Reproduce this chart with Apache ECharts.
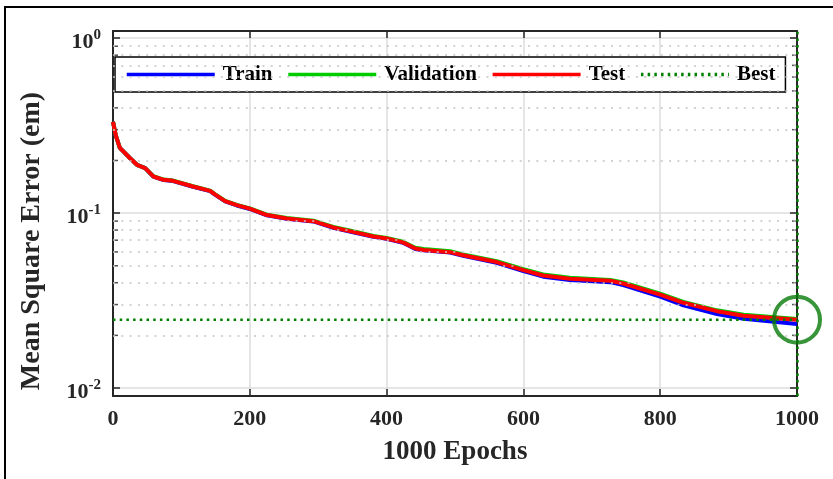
<!DOCTYPE html>
<html>
<head>
<meta charset="utf-8">
<script src="https://cdn.jsdelivr.net/npm/echarts@6/dist/echarts.min.js"></script>
<style>html,body{margin:0;padding:0;background:#fff}#c{width:833px;height:479px}</style>
</head>
<body>
<div id="c"></div>
<script>
const epochs     = [0, 4, 10, 25, 35, 47, 59, 74, 88, 117, 142, 149, 164, 181, 200, 225, 254, 293, 322, 351, 381, 400, 424, 442, 454, 493, 512, 561, 600, 629, 668, 727, 746, 800, 834, 883, 922, 1000];
const trainMSE   = [0.333, 0.278, 0.236, 0.206, 0.189, 0.181, 0.1615, 0.1545, 0.1525, 0.1415, 0.1335, 0.1275, 0.1166, 0.1106, 0.1056, 0.0972, 0.0929, 0.0896, 0.0825, 0.0778, 0.0732, 0.0713, 0.0677, 0.0624, 0.0613, 0.0595, 0.0570, 0.0520, 0.0466, 0.0433, 0.0414, 0.0403, 0.0388, 0.0333, 0.0297, 0.0265, 0.0249, 0.0232];
const validMSE   = [0.333, 0.278, 0.236, 0.206, 0.189, 0.181, 0.1625, 0.1555, 0.1535, 0.1425, 0.1345, 0.1285, 0.1175, 0.1115, 0.1065, 0.0980, 0.0937, 0.0905, 0.0834, 0.0787, 0.0741, 0.0722, 0.0686, 0.0634, 0.0623, 0.0605, 0.0581, 0.0531, 0.0478, 0.0446, 0.0427, 0.0415, 0.0401, 0.0346, 0.0311, 0.0278, 0.0262, 0.0248];
const testMSE    = [0.333, 0.278, 0.236, 0.206, 0.189, 0.181, 0.162, 0.155, 0.153, 0.142, 0.134, 0.128, 0.117, 0.111, 0.106, 0.0975, 0.0932, 0.0899, 0.0828, 0.0781, 0.0735, 0.0716, 0.0680, 0.0627, 0.0616, 0.0598, 0.0574, 0.0525, 0.0472, 0.0440, 0.0421, 0.0410, 0.0396, 0.0342, 0.0307, 0.0275, 0.0259, 0.0246];
const bestEpoch  = 1000;
const bestMSE    = 0.0246;
const xTicks     = [0, 200, 400, 600, 800, 1000];
const yMinorVals = [0.02, 0.03, 0.04, 0.05, 0.06, 0.07, 0.08, 0.09, 0.2, 0.3, 0.4, 0.5, 0.6, 0.7, 0.8, 0.9];
const seriesNames = ['Train', 'Validation', 'Test', 'Best'];
const xTitle = '1000 Epochs';
const yTitle = 'Mean Square Error (em)';

const FONT = '"Liberation Serif", "Times New Roman", serif';
const AX = '#262626';

function zip(xs, ys) { return xs.map((x, i) => [x, ys[i]]); }

const chart = echarts.init(document.getElementById('c'), null, {renderer: 'canvas'});

function yFmt(v) {
  const l = Math.log10(v);
  const e = Math.round(l);
  if (Math.abs(l - e) > 1e-6) return '';
  return '{b|10}{s|' + e + '}';
}
function xFmt(v) {
  return xTicks.indexOf(v) >= 0 ? String(v) : '';
}

const axisLineStyle = {show: true, onZero: false, lineStyle: {color: AX, width: 2}};

const option = {
  backgroundColor: '#fff',
  animation: false,
  grid: {left: 113, right: 36, top: 31, bottom: 83, containLabel: false},
  xAxis: [
    {type: 'value', min: 0, max: 1000, interval: 200, position: 'bottom',
     axisLine: axisLineStyle,
     axisTick: {inside: true, length: 7, lineStyle: {color: AX, width: 1.5}},
     axisLabel: {margin: 12, formatter: xFmt, fontFamily: FONT, fontWeight: 'bold', fontSize: 22, color: AX},
     splitLine: {show: true, lineStyle: {color: '#dcdcdc', width: 1.5}}},
    {type: 'value', min: 0, max: 1000, interval: 200, position: 'top',
     axisLine: axisLineStyle,
     axisTick: {inside: true, length: 7, lineStyle: {color: AX, width: 1.5}},
     axisLabel: {show: false}, splitLine: {show: false}}
  ],
  yAxis: [
    {type: 'log', logBase: 10, min: 0.009, max: 1.1, splitNumber: 2, position: 'left',
     axisLine: axisLineStyle,
     axisTick: {inside: true, length: 7, lineStyle: {color: AX, width: 1.5}},
     axisLabel: {margin: 12, formatter: yFmt, color: AX, padding: [8, 0, 0, 0],
       rich: {b: {fontFamily: FONT, fontWeight: 'bold', fontSize: 22, color: AX},
              s: {fontFamily: FONT, fontWeight: 'bold', fontSize: 15, color: AX, padding: [0, 0, 14, 0]}}},
     splitLine: {show: true, lineStyle: {color: '#dcdcdc', width: 1.5}}},
    {type: 'log', logBase: 10, min: 0.009, max: 1.1, splitNumber: 2, position: 'right',
     axisLine: axisLineStyle,
     axisTick: {inside: true, length: 7, lineStyle: {color: AX, width: 1.5}},
     axisLabel: {show: false}, splitLine: {show: false}}
  ],
  legend: {
    data: seriesNames,
    left: 115, top: 57,
    orient: 'horizontal',
    itemWidth: 88, itemHeight: 14, itemGap: 14,
    padding: [7, 10, 7, 10],
    backgroundColor: '#fff', borderColor: '#000', borderWidth: 1.5,
    itemStyle: {opacity: 0},
    lineStyle: {width: 3.5},
    textStyle: {fontFamily: FONT, fontWeight: 'bold', fontSize: 21, color: '#000', padding: [0, 0, 0, 3]}
  },
  series: [
    {name: 'minorL', type: 'scatter', data: yMinorVals.map(v => [0, v]), silent: true, clip: false,
     symbol: 'rect', symbolSize: [5, 1.5], symbolOffset: [2.5, 0], itemStyle: {color: AX}, z: 1,
     markLine: {silent: true, symbol: 'none', label: {show: false},
       lineStyle: {color: '#c4c4c4', width: 1.5, type: [2, 6.3]},
       data: yMinorVals.map(v => ({yAxis: v}))}},
    {name: 'minorR', type: 'scatter', data: yMinorVals.map(v => [1000, v]), silent: true, clip: false,
     symbol: 'rect', symbolSize: [5, 1.5], symbolOffset: [-2.5, 0], itemStyle: {color: AX}, z: 1},
    {name: 'Train', type: 'line', data: zip(epochs, trainMSE), symbol: 'none', showSymbol: false,
     lineStyle: {color: '#0000ff', width: 4}, itemStyle: {color: '#0000ff'}, z: 3},
    {name: 'Validation', type: 'line', data: zip(epochs, validMSE), symbol: 'none', showSymbol: false,
     lineStyle: {color: '#00cc00', width: 4}, itemStyle: {color: '#00cc00'}, z: 3},
    {name: 'Test', type: 'line', data: zip(epochs, testMSE), symbol: 'none', showSymbol: false,
     lineStyle: {color: '#ff0000', width: 4}, itemStyle: {color: '#ff0000'}, z: 3},
    {name: 'Best', type: 'line', data: [[0, bestMSE], [1000, bestMSE]], symbol: 'none', showSymbol: false,
     lineStyle: {color: '#008000', width: 2.5, type: [2.5, 4.2]}, itemStyle: {color: '#008000'}, z: 4,
     markLine: {silent: true, symbol: 'none', label: {show: false},
       lineStyle: {color: '#008000', width: 2.5, type: [2.5, 4.2]},
       data: [{xAxis: bestEpoch}]}},
    {name: 'bestCircle', type: 'scatter', data: [[bestEpoch, bestMSE]], silent: true, clip: false,
     symbol: 'circle', symbolSize: 46,
     itemStyle: {color: 'rgba(0,0,0,0)', borderColor: '#077a07', borderWidth: 4}, z: 5}
  ],
  graphic: [
    {type: 'rect', shape: {x: 5, y: 7, width: 900, height: 600}, style: {fill: 'none', stroke: '#000', lineWidth: 2}, z: 100, silent: true},
    {type: 'text', x: 455, y: 452, style: {text: xTitle, fontFamily: FONT, fontWeight: 'bold', fontSize: 27, fill: AX, align: 'center', verticalAlign: 'middle'}},
    {type: 'text', x: 32, y: 241, rotation: Math.PI / 2, style: {text: yTitle, fontFamily: FONT, fontWeight: 'bold', fontSize: 28, fill: AX, align: 'center', verticalAlign: 'middle'}}
  ]
};
chart.setOption(option);
</script>
</body>
</html>
